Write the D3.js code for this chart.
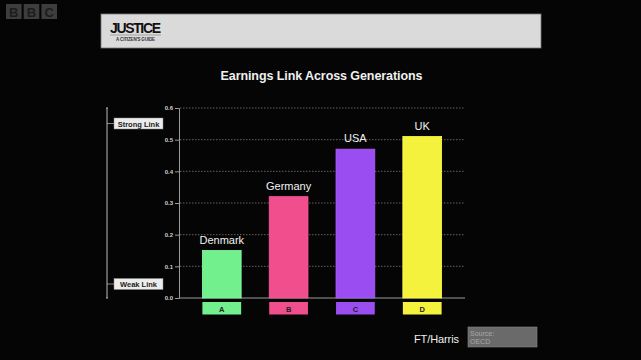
<!DOCTYPE html>
<html><head><meta charset="utf-8">
<script src="https://cdn.jsdelivr.net/npm/d3@7"></script>
<style>html,body{margin:0;padding:0;background:#050505;}svg{display:block;}</style>
</head><body>
<script>
const countries = ["Denmark", "Germany", "USA", "UK"];
const letters = ["A", "B", "C", "D"];
const values = [0.15, 0.32, 0.47, 0.51];
const colors = ["#72f08e", "#f04e8c", "#9a4ef2", "#f4f23c"];
const yTicks = [0.0, 0.1, 0.2, 0.3, 0.4, 0.5, 0.6];
const title = "Earnings Link Across Generations";

const W = 641, H = 360;
const svg = d3.select("body").append("svg").attr("width", W).attr("height", H);
svg.append("rect").attr("width", W).attr("height", H).attr("fill", "#050505");

// BBC logo
const bbc = ["B", "B", "C"];
const bx = d3.scaleBand().domain(d3.range(3)).range([6, 57]).paddingInner(0.12);
const bg = svg.append("g");
bg.selectAll("rect").data(bbc).join("rect")
  .attr("x", (d, i) => bx(i)).attr("y", 4).attr("width", bx.bandwidth()).attr("height", 15)
  .attr("fill", "#3d3d3d");
bg.selectAll("text").data(bbc).join("text")
  .attr("x", (d, i) => bx(i) + bx.bandwidth() / 2).attr("y", 16.5)
  .attr("text-anchor", "middle").attr("font-family", "Liberation Sans, Arial, sans-serif")
  .attr("font-weight", "bold").attr("font-size", 13).attr("fill", "#1c1c1c").text(d => d);

// Header bar
svg.append("rect").attr("x", 101).attr("y", 14).attr("width", 440).attr("height", 34)
  .attr("fill", "#dadada").attr("stroke", "#777").attr("stroke-width", 0.8);
svg.append("text").attr("x", 110).attr("y", 33).attr("font-family", "Liberation Sans Narrow, Liberation Sans, Arial, sans-serif")
  .attr("font-weight", "bold").attr("font-size", 14).attr("fill", "#111").attr("textLength", 51).text("JUSTICE");
svg.append("line").attr("x1", 110).attr("x2", 161).attr("y1", 35).attr("y2", 35).attr("stroke", "#666").attr("stroke-width", 0.5);
svg.append("text").attr("x", 116).attr("y", 40.5).attr("font-family", "Liberation Sans, Arial, sans-serif")
  .attr("font-weight", "bold").attr("font-size", 4.5).attr("fill", "#333").attr("textLength", 39).text("A CITIZEN'S GUIDE");

// Title
svg.append("text").attr("x", 321.5).attr("y", 80).attr("text-anchor", "middle")
  .attr("font-family", "Liberation Sans, Arial, sans-serif").attr("font-weight", "bold")
  .attr("font-size", 12.5).attr("fill", "#f0f0f0").attr("textLength", 202).text(title);

// Scales
const y = d3.scaleLinear().domain([0, 0.6]).range([298, 108]);
const x = d3.scaleBand().domain(countries).range([179, 465]).paddingInner(0.42).paddingOuter(0.35);

// grid lines
const grid = svg.append("g");
grid.selectAll("line").data(yTicks.filter(d => d > 0)).join("line")
  .attr("x1", 180).attr("x2", 465).attr("y1", d => y(d)).attr("y2", d => y(d))
  .attr("stroke", "#7a7a7a").attr("stroke-width", 0.8).attr("stroke-dasharray", "1.5,1.5");

// y axis
const yAxis = d3.axisLeft(y).tickValues(yTicks).tickFormat(d3.format(".1f")).tickSize(4).tickPadding(2);
const ya = svg.append("g").attr("transform", "translate(179,0)").call(yAxis);
ya.select(".domain").attr("stroke", "#9a9a9a").attr("stroke-width", 1);
ya.selectAll(".tick line").attr("stroke", "#9a9a9a");
ya.selectAll(".tick text").attr("fill", "#cfcfcf").attr("font-size", 6)
  .attr("font-weight", "bold").attr("font-family", "Liberation Sans, Arial, sans-serif");

// x axis line
svg.append("line").attr("x1", 179).attr("x2", 465).attr("y1", y(0)).attr("y2", y(0))
  .attr("stroke", "#9a9a9a").attr("stroke-width", 1.2);

// Bars
svg.append("g").selectAll("rect").data(values).join("rect")
  .attr("x", (d, i) => x(countries[i])).attr("y", d => y(d))
  .attr("width", x.bandwidth()).attr("height", d => y(0) - y(d))
  .attr("fill", (d, i) => colors[i]).attr("stroke", (d, i) => d3.color(colors[i]).brighter(0.4)).attr("stroke-width", 0.8);

// Bar labels
svg.append("g").selectAll("text").data(values).join("text")
  .attr("x", (d, i) => x(countries[i]) + x.bandwidth() / 2).attr("y", d => y(d) - 7)
  .attr("text-anchor", "middle").attr("font-family", "Liberation Sans, Arial, sans-serif")
  .attr("font-size", 11).attr("fill", "#f2f2f2").text((d, i) => countries[i]);

// Letter boxes
const lb = svg.append("g");
lb.selectAll("rect").data(letters).join("rect")
  .attr("x", (d, i) => x(countries[i])).attr("y", 302)
  .attr("width", x.bandwidth()).attr("height", 12.5)
  .attr("fill", (d, i) => colors[i]);
lb.selectAll("text").data(letters).join("text")
  .attr("x", (d, i) => x(countries[i]) + x.bandwidth() / 2).attr("y", 311.5)
  .attr("text-anchor", "middle").attr("font-family", "Liberation Sans, Arial, sans-serif")
  .attr("font-weight", "bold").attr("font-size", 7.5).attr("fill", "#222").text(d => d);

// Strong/Weak bracket
const link = svg.append("g");
link.append("line").attr("x1", 107).attr("x2", 107).attr("y1", y(0.6)).attr("y2", y(0))
  .attr("stroke", "#bbb").attr("stroke-width", 1);
link.selectAll("line.cap").data([0.6, 0]).join("line").attr("class", "cap")
  .attr("x1", 106).attr("x2", 108).attr("y1", d => y(d)).attr("y2", d => y(d)).attr("stroke", "#bbb");
const linkLabels = [{t: "Strong Link", yy: 123.5}, {t: "Weak Link", yy: 284}];
link.selectAll("line.conn").data(linkLabels).join("line").attr("class", "conn")
  .attr("x1", 107).attr("x2", 114).attr("y1", d => d.yy).attr("y2", d => d.yy).attr("stroke", "#bbb").attr("stroke-width", 0.7);
link.selectAll("rect").data(linkLabels).join("rect")
  .attr("x", 114).attr("y", d => d.yy - 5.5).attr("width", 49).attr("height", 11)
  .attr("fill", "#ececec").attr("stroke", "#888").attr("stroke-width", 0.5);
link.selectAll("text").data(linkLabels).join("text")
  .attr("x", 138.5).attr("y", d => d.yy + 3).attr("text-anchor", "middle")
  .attr("font-family", "Liberation Sans, Arial, sans-serif").attr("font-weight", "bold")
  .attr("font-size", 7.5).attr("fill", "#222").text(d => d.t);

// Footer
svg.append("text").attr("x", 414).attr("y", 343).attr("font-family", "Liberation Sans, Arial, sans-serif")
  .attr("font-size", 11).attr("fill", "#eee").attr("textLength", 45).text("FT/Harris");
svg.append("rect").attr("x", 468).attr("y", 327).attr("width", 69).attr("height", 20)
  .attr("fill", "#6a6a6a").attr("stroke", "#888").attr("stroke-width", 0.6);
svg.append("text").attr("x", 470).attr("y", 335.5).attr("font-family", "Liberation Sans, Arial, sans-serif")
  .attr("font-size", 7).attr("fill", "#a8a8a8").text("Source:");
svg.append("text").attr("x", 470).attr("y", 344).attr("font-family", "Liberation Sans, Arial, sans-serif")
  .attr("font-size", 7).attr("fill", "#a8a8a8").text("OECD");
</script>
</body></html>
